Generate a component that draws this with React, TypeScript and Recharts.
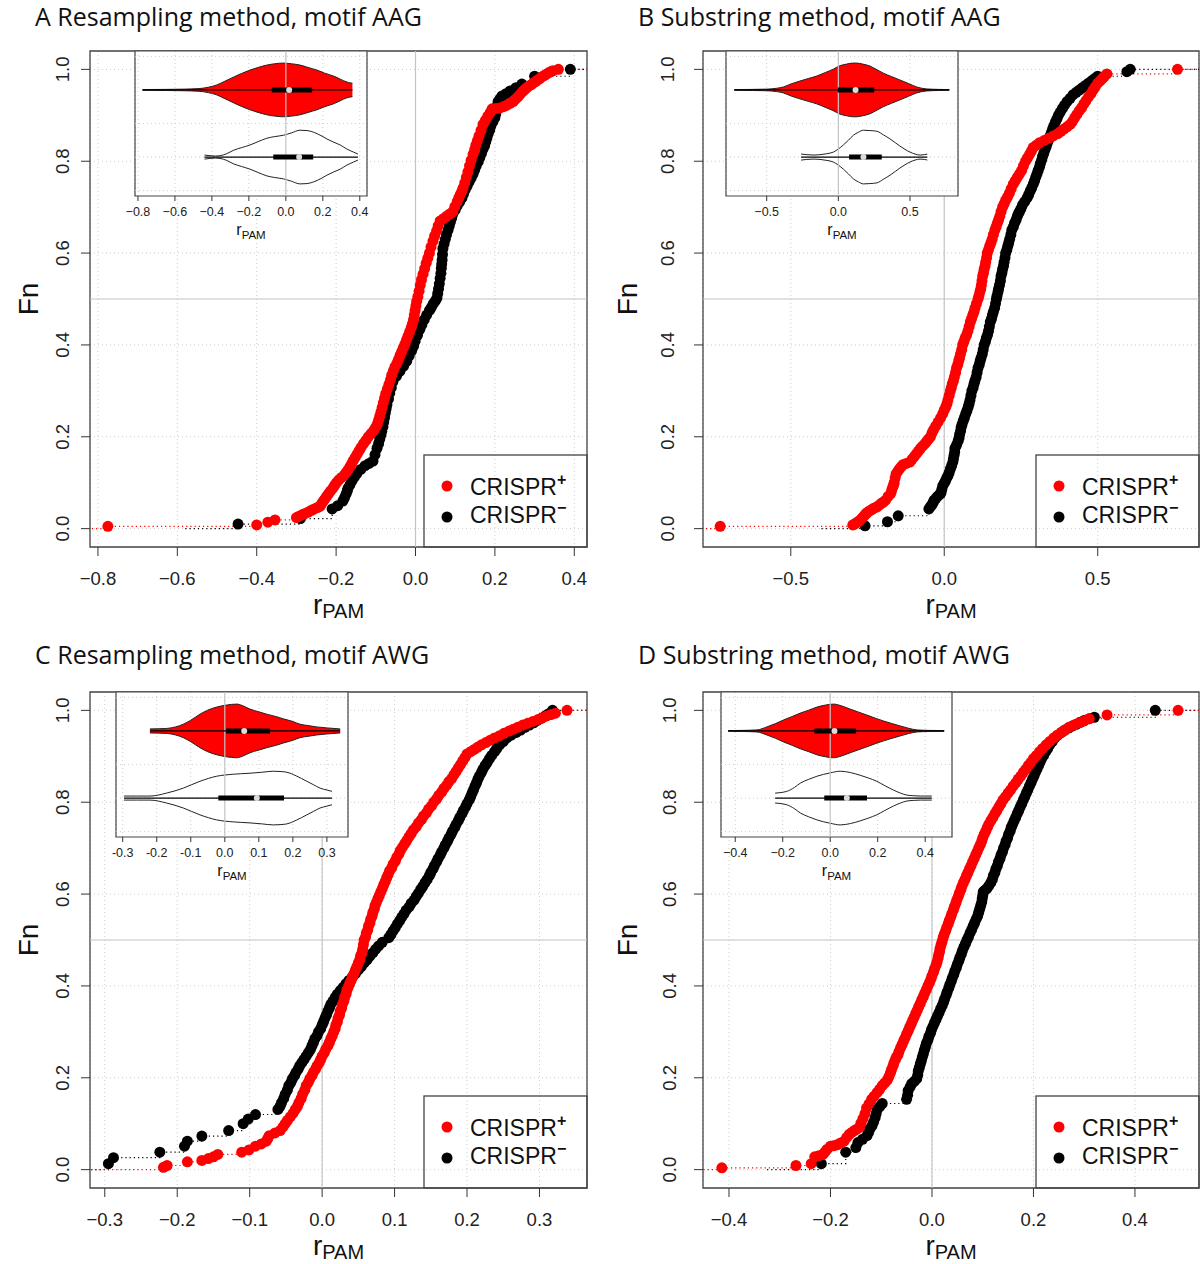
import React from "react";
import {
  ComposedChart,
  Scatter,
  Line,
  Area,
  XAxis,
  YAxis,
  CartesianGrid,
  ReferenceLine,
  ReferenceArea,
} from "recharts";

type P = [number, number];

// ECDF points: [r_PAM, Fn]
const aPlus: P[] = [
  [-0.775, 0.005], [-0.4, 0.008], [-0.372, 0.014], [-0.354, 0.019], [-0.3, 0.024], [-0.293, 0.027], [-0.286, 0.03],
  [-0.278, 0.033], [-0.27, 0.036], [-0.262, 0.04], [-0.255, 0.043], [-0.247, 0.046], [-0.24, 0.049], [-0.236, 0.055],
  [-0.232, 0.06], [-0.228, 0.065], [-0.224, 0.07], [-0.219, 0.076], [-0.214, 0.082], [-0.208, 0.088], [-0.204, 0.094],
  [-0.199, 0.1], [-0.193, 0.106], [-0.187, 0.111], [-0.18, 0.116], [-0.175, 0.122], [-0.17, 0.128], [-0.165, 0.135],
  [-0.161, 0.141], [-0.157, 0.148], [-0.152, 0.155], [-0.147, 0.162], [-0.142, 0.17], [-0.137, 0.177], [-0.131, 0.185],
  [-0.125, 0.192], [-0.119, 0.2], [-0.112, 0.207], [-0.105, 0.214], [-0.1, 0.221], [-0.096, 0.228], [-0.093, 0.236],
  [-0.09, 0.245], [-0.087, 0.254], [-0.084, 0.264], [-0.081, 0.274], [-0.078, 0.284], [-0.075, 0.294], [-0.071, 0.304],
  [-0.067, 0.314], [-0.063, 0.324], [-0.06, 0.334], [-0.056, 0.343], [-0.052, 0.352], [-0.047, 0.36], [-0.043, 0.368],
  [-0.039, 0.377], [-0.035, 0.385], [-0.031, 0.393], [-0.027, 0.401], [-0.023, 0.41], [-0.019, 0.419], [-0.015, 0.428],
  [-0.011, 0.437], [-0.008, 0.445], [-0.005, 0.455], [-0.003, 0.465], [-0.001, 0.475], [0.001, 0.485], [0.003, 0.495],
  [0.006, 0.505], [0.009, 0.517], [0.012, 0.53], [0.015, 0.542], [0.019, 0.554], [0.023, 0.566], [0.027, 0.578],
  [0.031, 0.589], [0.035, 0.6], [0.039, 0.613], [0.044, 0.626], [0.048, 0.637], [0.053, 0.648], [0.057, 0.659],
  [0.062, 0.67], [0.07, 0.675], [0.078, 0.68], [0.086, 0.685], [0.094, 0.69], [0.099, 0.701], [0.105, 0.712],
  [0.109, 0.72], [0.113, 0.728], [0.117, 0.735], [0.12, 0.742], [0.124, 0.753], [0.128, 0.765], [0.132, 0.777],
  [0.136, 0.79], [0.14, 0.802], [0.145, 0.815], [0.149, 0.825], [0.152, 0.835], [0.156, 0.845], [0.16, 0.855],
  [0.165, 0.867], [0.17, 0.88], [0.176, 0.889], [0.182, 0.898], [0.188, 0.906], [0.193, 0.914], [0.203, 0.915],
  [0.213, 0.916], [0.222, 0.919], [0.23, 0.922], [0.238, 0.926], [0.246, 0.93], [0.252, 0.935], [0.258, 0.94],
  [0.264, 0.946], [0.27, 0.952], [0.275, 0.956], [0.28, 0.96], [0.286, 0.964], [0.292, 0.967], [0.298, 0.971],
  [0.303, 0.974], [0.308, 0.977], [0.313, 0.98], [0.319, 0.984], [0.325, 0.987], [0.331, 0.99], [0.336, 0.993],
  [0.341, 0.995], [0.346, 0.997], [0.36, 1.0],
];
const aMinus: P[] = [
  [-0.447, 0.01], [-0.29, 0.022], [-0.21, 0.043], [-0.196, 0.05], [-0.183, 0.06], [-0.179, 0.067], [-0.175, 0.075],
  [-0.172, 0.082], [-0.17, 0.088], [-0.165, 0.096], [-0.16, 0.104], [-0.154, 0.112], [-0.148, 0.12], [-0.138, 0.129],
  [-0.127, 0.137], [-0.117, 0.142], [-0.107, 0.147], [-0.102, 0.161], [-0.097, 0.175], [-0.093, 0.185], [-0.09, 0.195],
  [-0.087, 0.204], [-0.085, 0.212], [-0.082, 0.222], [-0.08, 0.232], [-0.078, 0.242], [-0.076, 0.252], [-0.074, 0.261],
  [-0.072, 0.27], [-0.068, 0.282], [-0.065, 0.295], [-0.061, 0.307], [-0.057, 0.32], [-0.048, 0.332], [-0.039, 0.343],
  [-0.03, 0.354], [-0.022, 0.365], [-0.016, 0.376], [-0.01, 0.387], [-0.005, 0.397], [-0.001, 0.408], [0.005, 0.421],
  [0.011, 0.434], [0.016, 0.444], [0.022, 0.455], [0.028, 0.465], [0.035, 0.475], [0.04, 0.482], [0.045, 0.49],
  [0.05, 0.496], [0.054, 0.502], [0.056, 0.512], [0.058, 0.522], [0.06, 0.533], [0.062, 0.545], [0.064, 0.556],
  [0.065, 0.567], [0.066, 0.576], [0.067, 0.585], [0.068, 0.597], [0.069, 0.61], [0.072, 0.62], [0.075, 0.63],
  [0.078, 0.64], [0.082, 0.65], [0.085, 0.659], [0.088, 0.668], [0.091, 0.676], [0.094, 0.685], [0.1, 0.694],
  [0.105, 0.703], [0.111, 0.711], [0.117, 0.72], [0.121, 0.729], [0.125, 0.738], [0.13, 0.746], [0.135, 0.755],
  [0.14, 0.763], [0.145, 0.772], [0.149, 0.781], [0.153, 0.79], [0.158, 0.799], [0.162, 0.808], [0.166, 0.817],
  [0.17, 0.826], [0.174, 0.834], [0.177, 0.843], [0.18, 0.851], [0.183, 0.86], [0.187, 0.868], [0.19, 0.877],
  [0.195, 0.886], [0.2, 0.895], [0.202, 0.903], [0.204, 0.912], [0.206, 0.921], [0.208, 0.93], [0.213, 0.936],
  [0.218, 0.942], [0.228, 0.947], [0.238, 0.953], [0.253, 0.96], [0.268, 0.968], [0.3, 0.985], [0.39, 1.0],
];
const bPlus: P[] = [
  [-0.73, 0.005], [-0.298, 0.008], [-0.292, 0.01], [-0.287, 0.012], [-0.281, 0.015], [-0.276, 0.017], [-0.27, 0.021],
  [-0.265, 0.025], [-0.261, 0.028], [-0.257, 0.031], [-0.253, 0.034], [-0.249, 0.036], [-0.242, 0.039], [-0.235, 0.042],
  [-0.228, 0.045], [-0.22, 0.047], [-0.212, 0.051], [-0.205, 0.055], [-0.198, 0.058], [-0.191, 0.062], [-0.183, 0.07],
  [-0.174, 0.077], [-0.171, 0.084], [-0.168, 0.09], [-0.165, 0.095], [-0.163, 0.1], [-0.16, 0.11], [-0.157, 0.119],
  [-0.151, 0.125], [-0.146, 0.13], [-0.14, 0.135], [-0.135, 0.139], [-0.124, 0.142], [-0.112, 0.145], [-0.105, 0.151],
  [-0.098, 0.157], [-0.091, 0.163], [-0.084, 0.169], [-0.077, 0.175], [-0.07, 0.18], [-0.063, 0.185], [-0.057, 0.19],
  [-0.051, 0.195], [-0.045, 0.2], [-0.04, 0.208], [-0.035, 0.215], [-0.028, 0.223], [-0.02, 0.232], [-0.012, 0.241],
  [-0.005, 0.25], [0.0, 0.258], [0.005, 0.265], [0.009, 0.272], [0.012, 0.28], [0.016, 0.29], [0.02, 0.3],
  [0.023, 0.307], [0.026, 0.315], [0.03, 0.322], [0.033, 0.33], [0.037, 0.34], [0.04, 0.35], [0.044, 0.357],
  [0.047, 0.365], [0.05, 0.372], [0.053, 0.38], [0.057, 0.39], [0.06, 0.4], [0.064, 0.407], [0.068, 0.415],
  [0.073, 0.422], [0.077, 0.43], [0.081, 0.44], [0.085, 0.45], [0.089, 0.457], [0.093, 0.465], [0.097, 0.472],
  [0.1, 0.48], [0.105, 0.49], [0.11, 0.5], [0.113, 0.507], [0.116, 0.515], [0.119, 0.522], [0.121, 0.53],
  [0.123, 0.54], [0.125, 0.55], [0.128, 0.557], [0.13, 0.565], [0.133, 0.572], [0.135, 0.58], [0.138, 0.59],
  [0.14, 0.6], [0.144, 0.607], [0.148, 0.615], [0.152, 0.622], [0.156, 0.63], [0.16, 0.64], [0.165, 0.65],
  [0.169, 0.657], [0.173, 0.665], [0.177, 0.672], [0.181, 0.68], [0.185, 0.69], [0.19, 0.7], [0.195, 0.707],
  [0.2, 0.715], [0.206, 0.722], [0.212, 0.73], [0.218, 0.74], [0.225, 0.75], [0.231, 0.757], [0.238, 0.765],
  [0.245, 0.772], [0.252, 0.78], [0.258, 0.79], [0.265, 0.8], [0.271, 0.807], [0.278, 0.815], [0.284, 0.822],
  [0.29, 0.83], [0.3, 0.835], [0.31, 0.84], [0.325, 0.845], [0.34, 0.85], [0.355, 0.855], [0.37, 0.86], [0.38, 0.865],
  [0.39, 0.87], [0.4, 0.875], [0.41, 0.88], [0.418, 0.887], [0.425, 0.895], [0.432, 0.902], [0.44, 0.91],
  [0.448, 0.917], [0.455, 0.925], [0.462, 0.932], [0.47, 0.94], [0.478, 0.947], [0.485, 0.955], [0.492, 0.962],
  [0.5, 0.97], [0.508, 0.975], [0.515, 0.98], [0.522, 0.985], [0.53, 0.99], [0.76, 1.0],
];
const bMinus: P[] = [
  [-0.258, 0.006], [-0.185, 0.015], [-0.15, 0.028], [-0.05, 0.043], [-0.045, 0.048], [-0.04, 0.052], [-0.036, 0.057],
  [-0.033, 0.062], [-0.027, 0.066], [-0.022, 0.07], [-0.016, 0.074], [-0.011, 0.077], [-0.008, 0.085], [-0.005, 0.093],
  [0.0, 0.099], [0.004, 0.104], [0.008, 0.11], [0.012, 0.115], [0.016, 0.122], [0.02, 0.13], [0.024, 0.137],
  [0.028, 0.145], [0.03, 0.152], [0.032, 0.16], [0.034, 0.167], [0.035, 0.175], [0.04, 0.182], [0.045, 0.19],
  [0.048, 0.197], [0.05, 0.205], [0.053, 0.212], [0.055, 0.22], [0.058, 0.227], [0.062, 0.235], [0.066, 0.242],
  [0.07, 0.25], [0.074, 0.257], [0.078, 0.265], [0.081, 0.272], [0.084, 0.28], [0.087, 0.29], [0.09, 0.3],
  [0.094, 0.307], [0.097, 0.315], [0.1, 0.322], [0.104, 0.33], [0.107, 0.34], [0.11, 0.35], [0.114, 0.357],
  [0.117, 0.365], [0.12, 0.372], [0.124, 0.38], [0.127, 0.39], [0.13, 0.4], [0.134, 0.407], [0.137, 0.415],
  [0.141, 0.422], [0.144, 0.43], [0.147, 0.44], [0.15, 0.45], [0.154, 0.457], [0.157, 0.465], [0.16, 0.472],
  [0.164, 0.48], [0.167, 0.49], [0.17, 0.5], [0.172, 0.507], [0.175, 0.515], [0.177, 0.522], [0.18, 0.53],
  [0.183, 0.54], [0.185, 0.55], [0.188, 0.557], [0.19, 0.565], [0.193, 0.572], [0.195, 0.58], [0.198, 0.59],
  [0.2, 0.6], [0.204, 0.607], [0.207, 0.615], [0.21, 0.622], [0.213, 0.63], [0.217, 0.64], [0.22, 0.65],
  [0.225, 0.657], [0.229, 0.665], [0.234, 0.672], [0.238, 0.68], [0.241, 0.685], [0.245, 0.69], [0.25, 0.697],
  [0.255, 0.705], [0.262, 0.712], [0.27, 0.72], [0.275, 0.727], [0.28, 0.735], [0.285, 0.742], [0.29, 0.75],
  [0.294, 0.757], [0.298, 0.765], [0.302, 0.772], [0.306, 0.78], [0.31, 0.787], [0.313, 0.795], [0.317, 0.802],
  [0.32, 0.81], [0.324, 0.817], [0.328, 0.825], [0.332, 0.832], [0.336, 0.84], [0.34, 0.847], [0.345, 0.855],
  [0.349, 0.862], [0.353, 0.87], [0.357, 0.877], [0.362, 0.885], [0.367, 0.892], [0.372, 0.9], [0.378, 0.907],
  [0.385, 0.915], [0.392, 0.922], [0.4, 0.93], [0.41, 0.937], [0.42, 0.945], [0.43, 0.95], [0.44, 0.955],
  [0.45, 0.96], [0.46, 0.965], [0.47, 0.97], [0.48, 0.975], [0.49, 0.98], [0.5, 0.985], [0.595, 0.995], [0.606, 1.0],
];
const cPlus: P[] = [
  [-0.219, 0.005], [-0.214, 0.009], [-0.186, 0.017], [-0.166, 0.02], [-0.157, 0.024], [-0.15, 0.028], [-0.144, 0.033],
  [-0.111, 0.038], [-0.101, 0.043], [-0.092, 0.051], [-0.084, 0.056], [-0.077, 0.062], [-0.075, 0.068], [-0.073, 0.074],
  [-0.065, 0.08], [-0.058, 0.085], [-0.054, 0.093], [-0.051, 0.1], [-0.048, 0.107], [-0.044, 0.115], [-0.04, 0.123],
  [-0.037, 0.131], [-0.034, 0.138], [-0.032, 0.146], [-0.029, 0.155], [-0.027, 0.164], [-0.024, 0.173], [-0.022, 0.183],
  [-0.019, 0.19], [-0.017, 0.198], [-0.014, 0.205], [-0.012, 0.212], [-0.009, 0.219], [-0.007, 0.226], [-0.004, 0.233],
  [-0.002, 0.24], [0.0, 0.247], [0.003, 0.255], [0.005, 0.262], [0.008, 0.27], [0.01, 0.277], [0.012, 0.285],
  [0.014, 0.292], [0.016, 0.3], [0.018, 0.307], [0.019, 0.315], [0.021, 0.322], [0.022, 0.33], [0.024, 0.337],
  [0.025, 0.345], [0.027, 0.352], [0.028, 0.36], [0.03, 0.367], [0.031, 0.375], [0.033, 0.382], [0.034, 0.39],
  [0.036, 0.397], [0.038, 0.405], [0.04, 0.412], [0.042, 0.42], [0.044, 0.427], [0.046, 0.435], [0.048, 0.442],
  [0.05, 0.45], [0.052, 0.457], [0.053, 0.465], [0.055, 0.472], [0.056, 0.48], [0.057, 0.49], [0.058, 0.5],
  [0.06, 0.507], [0.061, 0.515], [0.063, 0.522], [0.064, 0.53], [0.066, 0.537], [0.067, 0.545], [0.069, 0.552],
  [0.07, 0.56], [0.072, 0.567], [0.073, 0.575], [0.075, 0.582], [0.077, 0.59], [0.079, 0.597], [0.081, 0.605],
  [0.083, 0.612], [0.085, 0.62], [0.087, 0.627], [0.089, 0.635], [0.091, 0.642], [0.093, 0.65], [0.096, 0.657],
  [0.098, 0.665], [0.101, 0.672], [0.103, 0.68], [0.106, 0.687], [0.108, 0.695], [0.111, 0.702], [0.114, 0.71],
  [0.117, 0.717], [0.12, 0.725], [0.123, 0.732], [0.126, 0.74], [0.13, 0.747], [0.133, 0.755], [0.137, 0.762],
  [0.14, 0.77], [0.144, 0.777], [0.147, 0.785], [0.151, 0.792], [0.154, 0.8], [0.158, 0.807], [0.161, 0.815],
  [0.165, 0.822], [0.168, 0.83], [0.172, 0.837], [0.175, 0.845], [0.179, 0.852], [0.182, 0.86], [0.185, 0.867],
  [0.188, 0.875], [0.191, 0.882], [0.194, 0.89], [0.197, 0.897], [0.2, 0.905], [0.205, 0.91], [0.21, 0.915],
  [0.215, 0.92], [0.22, 0.925], [0.226, 0.93], [0.232, 0.935], [0.238, 0.94], [0.245, 0.945], [0.251, 0.95],
  [0.258, 0.955], [0.264, 0.959], [0.27, 0.963], [0.277, 0.968], [0.284, 0.972], [0.291, 0.976], [0.298, 0.98],
  [0.304, 0.984], [0.31, 0.988], [0.316, 0.991], [0.322, 0.994], [0.338, 1.0],
];
const cMinus: P[] = [
  [-0.295, 0.013], [-0.288, 0.026], [-0.224, 0.038], [-0.19, 0.051], [-0.186, 0.062], [-0.166, 0.073], [-0.129, 0.085],
  [-0.109, 0.1], [-0.102, 0.11], [-0.092, 0.12], [-0.061, 0.131], [-0.058, 0.138], [-0.056, 0.146], [-0.053, 0.155],
  [-0.051, 0.164], [-0.048, 0.173], [-0.046, 0.183], [-0.043, 0.19], [-0.041, 0.198], [-0.038, 0.205], [-0.036, 0.212],
  [-0.033, 0.219], [-0.031, 0.226], [-0.028, 0.233], [-0.025, 0.24], [-0.022, 0.247], [-0.019, 0.255], [-0.016, 0.262],
  [-0.014, 0.27], [-0.012, 0.277], [-0.01, 0.285], [-0.007, 0.292], [-0.005, 0.3], [-0.002, 0.307], [0.0, 0.315],
  [0.002, 0.322], [0.004, 0.33], [0.006, 0.337], [0.008, 0.345], [0.01, 0.352], [0.012, 0.36], [0.015, 0.367],
  [0.018, 0.375], [0.021, 0.382], [0.025, 0.39], [0.029, 0.397], [0.033, 0.405], [0.037, 0.412], [0.042, 0.42],
  [0.046, 0.427], [0.05, 0.435], [0.054, 0.442], [0.058, 0.45], [0.062, 0.457], [0.066, 0.465], [0.07, 0.472],
  [0.074, 0.48], [0.078, 0.487], [0.083, 0.495], [0.092, 0.505], [0.095, 0.512], [0.098, 0.52], [0.101, 0.527],
  [0.104, 0.535], [0.107, 0.542], [0.11, 0.55], [0.113, 0.557], [0.116, 0.565], [0.12, 0.572], [0.123, 0.58],
  [0.127, 0.587], [0.13, 0.595], [0.133, 0.602], [0.136, 0.61], [0.139, 0.617], [0.142, 0.625], [0.145, 0.632],
  [0.148, 0.64], [0.15, 0.647], [0.153, 0.655], [0.155, 0.662], [0.158, 0.67], [0.16, 0.677], [0.163, 0.685],
  [0.165, 0.692], [0.168, 0.7], [0.17, 0.707], [0.173, 0.715], [0.175, 0.722], [0.178, 0.73], [0.18, 0.737],
  [0.183, 0.745], [0.185, 0.752], [0.188, 0.76], [0.19, 0.767], [0.193, 0.775], [0.195, 0.782], [0.198, 0.79],
  [0.2, 0.797], [0.203, 0.805], [0.205, 0.812], [0.207, 0.82], [0.209, 0.827], [0.211, 0.835], [0.213, 0.842],
  [0.215, 0.85], [0.217, 0.857], [0.22, 0.865], [0.222, 0.872], [0.225, 0.88], [0.228, 0.887], [0.231, 0.895],
  [0.234, 0.902], [0.238, 0.91], [0.241, 0.917], [0.245, 0.925], [0.25, 0.932], [0.255, 0.94], [0.261, 0.946],
  [0.268, 0.952], [0.274, 0.957], [0.28, 0.963], [0.286, 0.968], [0.292, 0.973], [0.297, 0.978], [0.303, 0.983],
  [0.308, 0.988], [0.312, 0.992], [0.318, 1.0],
];
const dPlus: P[] = [
  [-0.414, 0.004], [-0.268, 0.009], [-0.238, 0.013], [-0.231, 0.028], [-0.223, 0.03], [-0.215, 0.033], [-0.211, 0.038],
  [-0.207, 0.044], [-0.2, 0.051], [-0.194, 0.052], [-0.187, 0.054], [-0.18, 0.058], [-0.173, 0.062], [-0.168, 0.07],
  [-0.163, 0.077], [-0.158, 0.081], [-0.153, 0.085], [-0.148, 0.088], [-0.143, 0.092], [-0.14, 0.101], [-0.136, 0.111],
  [-0.132, 0.122], [-0.129, 0.134], [-0.124, 0.143], [-0.119, 0.153], [-0.114, 0.16], [-0.108, 0.168], [-0.103, 0.175],
  [-0.098, 0.183], [-0.093, 0.189], [-0.088, 0.195], [-0.085, 0.202], [-0.082, 0.21], [-0.08, 0.217], [-0.077, 0.225],
  [-0.075, 0.232], [-0.072, 0.24], [-0.07, 0.245], [-0.067, 0.25], [-0.065, 0.257], [-0.062, 0.265], [-0.059, 0.272],
  [-0.056, 0.28], [-0.053, 0.287], [-0.05, 0.295], [-0.047, 0.302], [-0.044, 0.31], [-0.041, 0.317], [-0.038, 0.325],
  [-0.035, 0.332], [-0.032, 0.34], [-0.029, 0.347], [-0.026, 0.355], [-0.023, 0.362], [-0.02, 0.37], [-0.017, 0.377],
  [-0.014, 0.385], [-0.011, 0.392], [-0.008, 0.4], [-0.005, 0.407], [-0.002, 0.415], [0.0, 0.422], [0.003, 0.43],
  [0.005, 0.437], [0.008, 0.445], [0.01, 0.452], [0.012, 0.46], [0.013, 0.467], [0.015, 0.475], [0.016, 0.482],
  [0.018, 0.49], [0.02, 0.497], [0.022, 0.505], [0.024, 0.512], [0.027, 0.52], [0.029, 0.527], [0.032, 0.535],
  [0.034, 0.542], [0.037, 0.55], [0.039, 0.557], [0.042, 0.565], [0.044, 0.572], [0.047, 0.58], [0.049, 0.587],
  [0.052, 0.595], [0.054, 0.602], [0.057, 0.61], [0.059, 0.617], [0.062, 0.625], [0.065, 0.632], [0.068, 0.64],
  [0.071, 0.647], [0.074, 0.655], [0.077, 0.662], [0.08, 0.67], [0.083, 0.677], [0.086, 0.685], [0.089, 0.692],
  [0.092, 0.7], [0.095, 0.707], [0.098, 0.715], [0.1, 0.722], [0.103, 0.73], [0.106, 0.737], [0.109, 0.745],
  [0.112, 0.752], [0.116, 0.76], [0.12, 0.767], [0.124, 0.775], [0.128, 0.782], [0.132, 0.79], [0.136, 0.797],
  [0.14, 0.805], [0.145, 0.812], [0.15, 0.82], [0.155, 0.827], [0.16, 0.835], [0.165, 0.842], [0.17, 0.85],
  [0.175, 0.857], [0.18, 0.865], [0.185, 0.872], [0.19, 0.88], [0.195, 0.887], [0.2, 0.895], [0.206, 0.902],
  [0.212, 0.91], [0.218, 0.917], [0.225, 0.925], [0.232, 0.932], [0.24, 0.94], [0.247, 0.946], [0.255, 0.952],
  [0.262, 0.957], [0.27, 0.963], [0.28, 0.968], [0.29, 0.973], [0.3, 0.977], [0.31, 0.982], [0.345, 0.99],
  [0.485, 1.0],
];
const dMinus: P[] = [
  [-0.218, 0.013], [-0.17, 0.038], [-0.15, 0.048], [-0.146, 0.059], [-0.137, 0.066], [-0.128, 0.074], [-0.125, 0.081],
  [-0.122, 0.089], [-0.118, 0.096], [-0.115, 0.104], [-0.112, 0.113], [-0.11, 0.122], [-0.108, 0.131], [-0.103, 0.137],
  [-0.098, 0.144], [-0.05, 0.153], [-0.048, 0.162], [-0.047, 0.172], [-0.043, 0.18], [-0.04, 0.187], [-0.035, 0.192],
  [-0.03, 0.198], [-0.028, 0.206], [-0.027, 0.215], [-0.025, 0.222], [-0.023, 0.23], [-0.021, 0.237], [-0.019, 0.245],
  [-0.017, 0.252], [-0.015, 0.26], [-0.013, 0.267], [-0.011, 0.275], [-0.008, 0.282], [-0.006, 0.29], [-0.003, 0.297],
  [-0.001, 0.305], [0.002, 0.312], [0.005, 0.32], [0.008, 0.327], [0.011, 0.335], [0.014, 0.342], [0.017, 0.35],
  [0.02, 0.357], [0.023, 0.365], [0.025, 0.372], [0.028, 0.38], [0.03, 0.387], [0.033, 0.395], [0.035, 0.402],
  [0.038, 0.41], [0.04, 0.417], [0.043, 0.425], [0.045, 0.432], [0.048, 0.44], [0.05, 0.447], [0.053, 0.455],
  [0.055, 0.462], [0.058, 0.47], [0.06, 0.477], [0.063, 0.485], [0.066, 0.492], [0.069, 0.5], [0.072, 0.507],
  [0.075, 0.515], [0.078, 0.522], [0.081, 0.53], [0.084, 0.537], [0.087, 0.545], [0.09, 0.552], [0.092, 0.56],
  [0.094, 0.567], [0.096, 0.575], [0.098, 0.582], [0.099, 0.59], [0.1, 0.597], [0.101, 0.605], [0.104, 0.608],
  [0.108, 0.612], [0.112, 0.618], [0.116, 0.625], [0.119, 0.632], [0.121, 0.64], [0.124, 0.647], [0.126, 0.655],
  [0.129, 0.662], [0.131, 0.67], [0.134, 0.677], [0.136, 0.685], [0.139, 0.692], [0.141, 0.7], [0.144, 0.707],
  [0.146, 0.715], [0.149, 0.722], [0.151, 0.73], [0.154, 0.737], [0.156, 0.745], [0.159, 0.752], [0.162, 0.76],
  [0.165, 0.767], [0.168, 0.775], [0.171, 0.782], [0.174, 0.79], [0.177, 0.797], [0.18, 0.805], [0.183, 0.812],
  [0.186, 0.82], [0.189, 0.827], [0.192, 0.835], [0.195, 0.842], [0.198, 0.85], [0.201, 0.857], [0.204, 0.865],
  [0.207, 0.872], [0.21, 0.88], [0.213, 0.887], [0.216, 0.895], [0.22, 0.902], [0.224, 0.91], [0.228, 0.917],
  [0.232, 0.925], [0.237, 0.932], [0.242, 0.94], [0.248, 0.946], [0.255, 0.952], [0.262, 0.957], [0.27, 0.962],
  [0.277, 0.966], [0.285, 0.97], [0.292, 0.974], [0.3, 0.978], [0.31, 0.982], [0.32, 0.985], [0.44, 1.0],
];

// where each dotted step line starts (Fn = 0) and ends (Fn = 1)
const aPlusEnds = [-0.9, 0.5];
const aMinusEnds = [-0.58, 0.5];
const bPlusEnds = [-0.9, 0.9];
const bMinusEnds = [-0.4, 0.9];
const cPlusEnds = [-0.4, 0.4];
const cMinusEnds = [-0.4, 0.4];
const dPlusEnds = [-0.5, 0.6];
const dMinusEnds = [-0.325, 0.6];

// violin outlines for the insets: [r_PAM, half width]
const aPlusViolin: P[] = [
  [-0.775, 0.006], [-0.65, 0.008], [-0.55, 0.012], [-0.47, 0.02], [-0.42, 0.04], [-0.374, 0.074], [-0.33, 0.13],
  [-0.284, 0.19], [-0.24, 0.245], [-0.194, 0.296], [-0.15, 0.335], [-0.103, 0.37], [-0.06, 0.39], [-0.013, 0.4],
  [0.03, 0.39], [0.077, 0.37], [0.12, 0.335], [0.168, 0.296], [0.21, 0.25], [0.258, 0.207], [0.295, 0.16],
  [0.33, 0.118], [0.36, 0.1],
];
const aMinusViolin: P[] = [
  [-0.44, 0.03], [-0.41, 0.02], [-0.38, 0.015], [-0.356, 0.02], [-0.32, 0.05], [-0.284, 0.1], [-0.24, 0.14],
  [-0.194, 0.18], [-0.15, 0.23], [-0.103, 0.28], [-0.06, 0.305], [-0.013, 0.325], [0.03, 0.36], [0.077, 0.4],
  [0.115, 0.395], [0.15, 0.37], [0.19, 0.32], [0.222, 0.27], [0.26, 0.22], [0.294, 0.18], [0.33, 0.12],
  [0.366, 0.074], [0.39, 0.045],
];
const bPlusViolin: P[] = [
  [-0.726, 0.005], [-0.6, 0.008], [-0.5, 0.012], [-0.43, 0.025], [-0.384, 0.044], [-0.33, 0.09], [-0.268, 0.133],
  [-0.21, 0.17], [-0.151, 0.207], [-0.09, 0.26], [-0.035, 0.31], [0.01, 0.36], [0.058, 0.385], [0.1, 0.4],
  [0.128, 0.4], [0.17, 0.385], [0.221, 0.355], [0.27, 0.3], [0.314, 0.25], [0.37, 0.2], [0.43, 0.148], [0.49, 0.095],
  [0.547, 0.044], [0.617, 0.015], [0.7, 0.008], [0.774, 0.005],
];
const bMinusViolin: P[] = [
  [-0.26, 0.045], [-0.22, 0.035], [-0.17, 0.03], [-0.128, 0.035], [-0.08, 0.05], [-0.035, 0.074], [0.0, 0.12],
  [0.035, 0.18], [0.07, 0.25], [0.105, 0.325], [0.14, 0.37], [0.175, 0.4], [0.22, 0.395], [0.268, 0.385],
  [0.315, 0.33], [0.361, 0.27], [0.4, 0.21], [0.43, 0.163], [0.465, 0.115], [0.5, 0.074], [0.535, 0.045],
  [0.57, 0.03], [0.6, 0.035], [0.621, 0.044],
];
const cPlusViolin: P[] = [
  [-0.22, 0.03], [-0.171, 0.037], [-0.145, 0.06], [-0.122, 0.1], [-0.1, 0.16], [-0.073, 0.25], [-0.05, 0.31],
  [-0.024, 0.355], [0.005, 0.385], [0.035, 0.4], [0.055, 0.37], [0.074, 0.325], [0.1, 0.285], [0.123, 0.25],
  [0.15, 0.215], [0.172, 0.18], [0.2, 0.14], [0.221, 0.1], [0.245, 0.08], [0.27, 0.06], [0.3, 0.045], [0.339, 0.03],
];
const cMinusViolin: P[] = [
  [-0.296, 0.03], [-0.26, 0.03], [-0.22, 0.03], [-0.171, 0.074], [-0.122, 0.148], [-0.073, 0.25], [-0.024, 0.325],
  [0.025, 0.355], [0.074, 0.37], [0.11, 0.385], [0.143, 0.4], [0.165, 0.395], [0.182, 0.385], [0.21, 0.33],
  [0.241, 0.25], [0.26, 0.2], [0.28, 0.148], [0.3, 0.12], [0.315, 0.1],
];
const dPlusViolin: P[] = [
  [-0.43, 0.005], [-0.37, 0.008], [-0.309, 0.015], [-0.267, 0.06], [-0.23, 0.11], [-0.197, 0.163], [-0.16, 0.215],
  [-0.126, 0.266], [-0.09, 0.31], [-0.056, 0.355], [-0.02, 0.385], [0.014, 0.4], [0.05, 0.37], [0.084, 0.325],
  [0.12, 0.28], [0.154, 0.237], [0.19, 0.19], [0.225, 0.148], [0.26, 0.11], [0.295, 0.074], [0.33, 0.04],
  [0.365, 0.015], [0.42, 0.008], [0.48, 0.005],
];
const dMinusViolin: P[] = [
  [-0.232, 0.074], [-0.183, 0.1], [-0.15, 0.16], [-0.126, 0.222], [-0.09, 0.28], [-0.056, 0.325], [0.0, 0.375],
  [0.042, 0.4], [0.085, 0.38], [0.126, 0.34], [0.16, 0.3], [0.196, 0.25], [0.23, 0.185], [0.267, 0.118],
  [0.295, 0.075], [0.323, 0.044], [0.35, 0.035], [0.379, 0.03], [0.428, 0.03],
];

// inset boxplots: [min, q1, median, q3, max]
const aPlusBox = [-0.775, -0.076, 0.018, 0.142, 0.36];
const aMinusBox = [-0.44, -0.068, 0.072, 0.148, 0.39];
const bPlusBox = [-0.726, -0.004, 0.12, 0.25, 0.774];
const bMinusBox = [-0.26, 0.075, 0.175, 0.303, 0.621];
const cPlusBox = [-0.22, 0.004, 0.057, 0.133, 0.339];
const cMinusBox = [-0.296, -0.019, 0.094, 0.174, 0.315];
const dPlusBox = [-0.43, -0.067, 0.018, 0.109, 0.48];
const dMinusBox = [-0.232, -0.025, 0.07, 0.155, 0.428];

const yTicks = [0, 0.2, 0.4, 0.6, 0.8, 1.0];
const aTicks = [-0.8, -0.6, -0.4, -0.2, 0, 0.2, 0.4];
const bTicks = [-0.5, 0, 0.5];
const cTicks = [-0.3, -0.2, -0.1, 0, 0.1, 0.2, 0.3];
const dTicks = [-0.4, -0.2, 0, 0.2, 0.4];
const insetRows = [0.5, 1, 1.5, 2.5];

const titles = [
  "A Resampling method, motif AAG",
  "B Substring method, motif AAG",
  "C Resampling method, motif AWG",
  "D Substring method, motif AWG",
];

const SANS = "'Liberation Sans', Arial, Helvetica, sans-serif";
const RED = "#ff0000";

const panels = [
  {
    title: titles[0], tx: 35, ty: 26, ox: 0, oy: 0, h: 640, ygap: 21, fnX: 38,
    box: { l: 90, t: 51, w: 497, h: 496 }, domain: [-0.82, 0.432], ticks: aTicks,
    pos: aPlus, neg: aMinus, posEnds: aPlusEnds, negEnds: aMinusEnds,
    inset: { box: { l: 135, t: 51, w: 232, h: 145 }, domain: [-0.816, 0.439], minus: "\u2212",
      pv: aPlusViolin, nv: aMinusViolin, pb: aPlusBox, nb: aMinusBox },
  },
  {
    title: titles[1], tx: 638, ty: 26, ox: 600, oy: 0, h: 640, ygap: 29, fnX: 637,
    box: { l: 703, t: 51, w: 496, h: 496 }, domain: [-0.786, 0.83], ticks: bTicks,
    pos: bPlus, neg: bMinus, posEnds: bPlusEnds, negEnds: bMinusEnds,
    inset: { box: { l: 726, t: 51, w: 232, h: 145 }, domain: [-0.784, 0.835], minus: "\u2212",
      pv: bPlusViolin, nv: bMinusViolin, pb: bPlusBox, nb: bMinusBox },
  },
  {
    title: titles[2], tx: 35, ty: 664, ox: 0, oy: 640, h: 624, ygap: 21, fnX: 38,
    box: { l: 90, t: 692, w: 497, h: 496 }, domain: [-0.3204, 0.3656], ticks: cTicks,
    pos: cPlus, neg: cMinus, posEnds: cPlusEnds, negEnds: cMinusEnds,
    inset: { box: { l: 116, t: 692, w: 232, h: 145 }, domain: [-0.3197, 0.362], minus: "-",
      pv: cPlusViolin, nv: cMinusViolin, pb: cPlusBox, nb: cMinusBox },
  },
  {
    title: titles[3], tx: 638, ty: 664, ox: 600, oy: 640, h: 624, ygap: 27, fnX: 637,
    box: { l: 703, t: 692, w: 496, h: 496 }, domain: [-0.4512, 0.5262], ticks: dTicks,
    pos: dPlus, neg: dMinus, posEnds: dPlusEnds, negEnds: dMinusEnds,
    inset: { box: { l: 721, t: 692, w: 231, h: 145 }, domain: [-0.46, 0.513], minus: "\u2212",
      pv: dPlusViolin, nv: dMinusViolin, pb: dPlusBox, nb: dMinusBox },
  },
];

const fmt = (v: number, minus = "\u2212") => (v < -1e-9 ? minus : "") + Math.abs(v).toFixed(1);
const toPts = (a: P[]) => a.map(([x, y]) => ({ x, y }));
const toSteps = (a: P[], ends: number[]) => [{ x: ends[0], y: 0 }, ...toPts(a), { x: ends[1], y: 1 }];
const dotShape = (color: string, r: number) => (props: any) => (
  <circle cx={props.cx} cy={props.cy} r={r} fill={color} />
);

function MainChart({ p }: { p: any }) {
  const w = 600;
  const yW = 40;
  const xH = 40;
  const top = p.box.t - p.oy;
  const left = p.box.l - p.ox - yW;
  const right = w - (p.box.l - p.ox) - p.box.w;
  const bottom = p.h - top - p.box.h - xH;
  return (
    <div style={{ position: "absolute", left: p.ox, top: p.oy }}>
      <ComposedChart width={w} height={p.h} margin={{ top, left, right, bottom }}>
        <CartesianGrid stroke="#cdcdcd" strokeDasharray="1 3" />
        <XAxis
          type="number" dataKey="x" domain={p.domain} ticks={p.ticks} allowDataOverflow interval={0}
          height={xH} tickSize={9} tickMargin={16} axisLine={false} tickLine={{ stroke: "#333" }}
          tick={(t: any) => (
            <text x={t.x} y={t.y} dy={13} textAnchor="middle" fontSize={18.5} fontFamily={SANS} fill="#222">
              {fmt(t.payload.value)}
            </text>
          )}
        />
        <YAxis
          type="number" dataKey="y" domain={[-0.04, 1.04]} ticks={yTicks} allowDataOverflow interval={0}
          width={yW} tickSize={9} tickMargin={p.ygap - 9} axisLine={false} tickLine={{ stroke: "#333" }}
          tick={(t: any) => (
            <text x={t.x} y={t.y} transform={`rotate(-90 ${t.x} ${t.y})`} textAnchor="middle" fontSize={18.5} fontFamily={SANS} fill="#222">
              {fmt(t.payload.value)}
            </text>
          )}
        />
        <ReferenceLine x={0} stroke="#c4c4c4" strokeWidth={1.2} />
        <ReferenceLine y={0.5} stroke="#c4c4c4" strokeWidth={1.2} />
        <Line data={toSteps(p.neg, p.negEnds)} dataKey="y" type="stepAfter" stroke="#000" strokeWidth={1.2}
          strokeDasharray="1.2 3" dot={false} activeDot={false} isAnimationActive={false} />
        <Line data={toSteps(p.pos, p.posEnds)} dataKey="y" type="stepAfter" stroke={RED} strokeWidth={1.2}
          strokeDasharray="1.2 3" dot={false} activeDot={false} isAnimationActive={false} />
        <Scatter data={toPts(p.neg)} fill="#000" shape={dotShape("#000", 5.5)} isAnimationActive={false} />
        <Scatter data={toPts(p.pos)} fill={RED} shape={dotShape(RED, 5.5)} isAnimationActive={false} />
        <ReferenceArea x1={p.domain[0]} x2={p.domain[1]} y1={-0.04} y2={1.04} fill="none"
          stroke="#444" strokeWidth={1.3} ifOverflow="visible" />
      </ComposedChart>
    </div>
  );
}

function InsetChart({ p }: { p: any }) {
  const ins = p.inset;
  const b = ins.box;
  const padX = 24;
  const xH = 30;
  const padB = 10;
  const w = b.w + 2 * padX;
  const h = b.h + 2 + xH + padB;
  const violin = (a: P[], c: number) => a.map(([x, hw]) => ({ x, v: [c - hw, c + hw] }));
  const boxParts = (s: number[], c: number) => [
    <ReferenceLine key={"wh" + c} segment={[{ x: s[0], y: c }, { x: s[4], y: c }]} stroke="#000" strokeWidth={1.3} ifOverflow="visible" />,
    <ReferenceLine key={"bx" + c} segment={[{ x: s[1], y: c }, { x: s[3], y: c }]} stroke="#000" strokeWidth={5} ifOverflow="visible" />,
  ];
  return (
    <div style={{ position: "absolute", left: b.l - padX, top: b.t - 2, width: w, height: h }}>
      <div style={{ position: "absolute", left: padX, top: 2, width: b.w, height: b.h, background: "#fff" }} />
      <div style={{ position: "absolute", left: 0, top: 0 }}>
        <ComposedChart width={w} height={h} margin={{ top: 2, left: padX, right: padX, bottom: padB }}>
          <CartesianGrid stroke="#cdcdcd" strokeDasharray="1 3" horizontal={false} />
          <XAxis
            type="number" dataKey="x" domain={ins.domain} ticks={p.ticks} allowDataOverflow interval={0}
            height={xH} tickSize={5} tickMargin={6} axisLine={false} tickLine={{ stroke: "#333" }}
            tick={(t: any) => (
              <text x={t.x} y={t.y} dy={9} textAnchor="middle" fontSize={12.5} fontFamily={SANS} fill="#222">
                {fmt(t.payload.value, ins.minus)}
              </text>
            )}
          />
          <YAxis type="number" dataKey="y" domain={[0.42, 2.58]} allowDataOverflow hide />
          {insetRows.map((r) => (
            <ReferenceLine key={r} y={r} stroke="#cdcdcd" strokeDasharray="1 3" />
          ))}
          <ReferenceLine x={0} stroke="#c4c4c4" strokeWidth={1.2} />
          <Area data={violin(ins.pv, 2)} dataKey="v" type="monotone" stroke="#222" strokeWidth={1}
            fill={RED} fillOpacity={1} dot={false} activeDot={false} isAnimationActive={false} />
          <Area data={violin(ins.nv, 1)} dataKey="v" type="monotone" stroke="#222" strokeWidth={1}
            fill="#fff" fillOpacity={1} dot={false} activeDot={false} isAnimationActive={false} />
          {boxParts(ins.pb, 2)}
          {boxParts(ins.nb, 1)}
          <Scatter data={[{ x: ins.pb[2], y: 2 }, { x: ins.nb[2], y: 1 }]} fill="#ddd"
            shape={dotShape("#dcdcdc", 3)} isAnimationActive={false} />
          <ReferenceArea x1={ins.domain[0]} x2={ins.domain[1]} y1={0.42} y2={2.58} fill="none"
            stroke="#444" strokeWidth={1.2} ifOverflow="visible" />
        </ComposedChart>
      </div>
    </div>
  );
}

function Decor({ p }: { p: any }) {
  const b = p.box;
  const ib = p.inset.box;
  const lw = 163;
  const lh = 92;
  const lx = b.l + b.w - lw;
  const ly = b.t + b.h - lh;
  return (
    <g fontFamily={SANS} fill="#111">
      <text x={p.tx} y={p.ty} fontFamily="'Open Sans', 'Noto Sans', sans-serif" fontSize={25}>
        {p.title}
      </text>
      <text transform={`translate(${p.fnX} ${b.t + b.h / 2}) rotate(-90)`} textAnchor="middle" fontSize={28}>
        Fn
      </text>
      <text x={b.l + b.w / 2} y={b.t + b.h + 67} textAnchor="middle">
        <tspan fontSize={28}>r</tspan>
        <tspan fontSize={20} dy={4}>PAM</tspan>
      </text>
      <text x={ib.l + ib.w / 2} y={ib.t + ib.h + 39} textAnchor="middle">
        <tspan fontSize={16}>r</tspan>
        <tspan fontSize={11.5} dy={4}>PAM</tspan>
      </text>
      <rect x={lx} y={ly} width={lw} height={lh} fill="none" stroke="#444" strokeWidth={1.3} />
      <circle cx={lx + 23} cy={ly + 31} r={5.5} fill={RED} />
      <circle cx={lx + 23} cy={ly + 62} r={5.5} fill="#000" />
      <text x={lx + 46} y={ly + 40} fontSize={23}>
        CRISPR<tspan fontSize={16} fontWeight="bold" dy={-10}>+</tspan>
      </text>
      <text x={lx + 46} y={ly + 68} fontSize={23}>
        CRISPR<tspan fontSize={16} fontWeight="bold" dy={-10}>{"\u2212"}</tspan>
      </text>
    </g>
  );
}

export default function App() {
  return (
    <div style={{ position: "absolute", left: 0, top: 0, width: 1200, height: 1264, background: "#fff", overflow: "hidden" }}>
      {panels.map((p) => (
        <MainChart key={p.title} p={p} />
      ))}
      {panels.map((p) => (
        <InsetChart key={"i" + p.title} p={p} />
      ))}
      <svg width={1200} height={1264} style={{ position: "absolute", left: 0, top: 0, pointerEvents: "none" }}>
        {panels.map((p) => (
          <Decor key={"d" + p.title} p={p} />
        ))}
      </svg>
    </div>
  );
}
